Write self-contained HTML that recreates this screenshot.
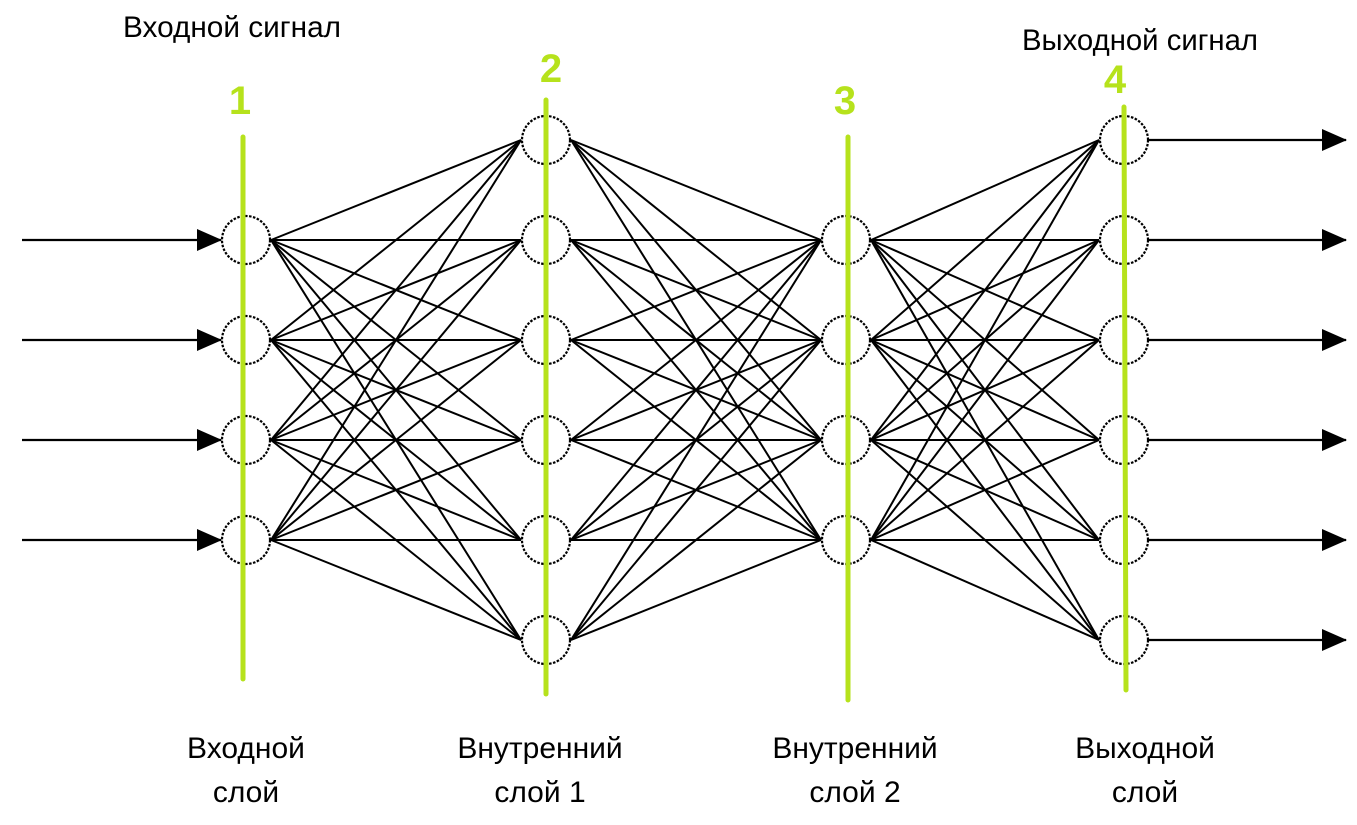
<!DOCTYPE html>
<html><head><meta charset="utf-8"><style>
html,body{margin:0;padding:0;background:#fff;width:1357px;height:825px;overflow:hidden}
text{font-family:"Liberation Sans Narrow","Liberation Sans",sans-serif}
</style></head><body>
<svg width="1357" height="825" viewBox="0 0 1357 825" xmlns="http://www.w3.org/2000/svg">
<defs><marker id="a" markerWidth="26" markerHeight="24" refX="24" refY="12" orient="auto" markerUnits="userSpaceOnUse"><path d="M0,1 L25,12 L0,23 Z" fill="#000"/></marker></defs>
<g id="lines" stroke="#000" stroke-width="2" fill="none"></g>
<g id="nodes" stroke="#000" stroke-width="2.2" stroke-dasharray="2.5 1.5" fill="#fff"></g>
<g stroke="#b6e21c" stroke-width="5" stroke-linecap="round">
<line x1="243" y1="137" x2="243" y2="679"/>
<line x1="546" y1="100" x2="546" y2="694"/>
<line x1="848" y1="137" x2="848" y2="700"/>
<line x1="1124" y1="107" x2="1126" y2="690"/>
</g>
<g fill="#b6e21c" font-weight="bold" font-size="40" text-anchor="middle">
<text x="240" y="114" font-family="Liberation Sans,sans-serif">1</text>
<text x="551" y="82" font-family="Liberation Sans,sans-serif">2</text>
<text x="845" y="114" font-family="Liberation Sans,sans-serif">3</text>
<text x="1115" y="93" font-family="Liberation Sans,sans-serif">4</text>
</g>
<g fill="#000" font-size="30">
<text x="123" y="37" textLength="218" lengthAdjust="spacingAndGlyphs">Входной сигнал</text>
<text x="1022" y="50" textLength="236" lengthAdjust="spacingAndGlyphs">Выходной сигнал</text>
</g>
<g fill="#000" font-size="30" text-anchor="middle">
<text x="246" y="758">Входной</text><text x="246" y="802">слой</text>
<text x="540" y="758">Внутренний</text><text x="540" y="802">слой 1</text>
<text x="855" y="758">Внутренний</text><text x="855" y="802">слой 2</text>
<text x="1145" y="758">Выходной</text><text x="1145" y="802">слой</text>
</g>
</svg>
<script>
var ns="http://www.w3.org/2000/svg",L=document.getElementById("lines"),N=document.getElementById("nodes");
var layers=[[246,[240,340,440,540]],[546,[140,240,340,440,540,640]],[846,[240,340,440,540]],[1124,[140,240,340,440,540,640]]];
function ln(x1,y1,x2,y2,m){var l=document.createElementNS(ns,"line");l.setAttribute("x1",x1);l.setAttribute("y1",y1);l.setAttribute("x2",x2);l.setAttribute("y2",y2);if(m){l.setAttribute("marker-end","url(#a)");l.setAttribute("stroke-width","2.2")}L.appendChild(l);}
for(var i=0;i<3;i++){var A=layers[i],B=layers[i+1];A[1].forEach(function(y1){B[1].forEach(function(y2){ln(A[0]+25,y1,B[0]-25,y2)})})}
layers[0][1].forEach(function(y){ln(22,y,221,y,1)});
layers[3][1].forEach(function(y){ln(1149,y,1346,y,1)});
layers.forEach(function(A){A[1].forEach(function(y){var c=document.createElementNS(ns,"circle");c.setAttribute("cx",A[0]);c.setAttribute("cy",y);c.setAttribute("r",24);N.appendChild(c)})});
</script>
</body></html>
